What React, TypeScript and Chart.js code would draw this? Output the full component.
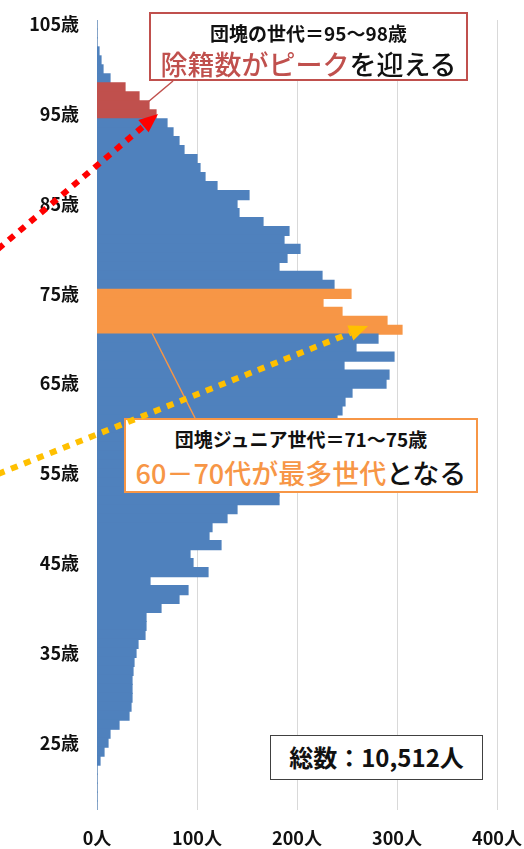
import React, { useEffect, useRef } from "react";
import { Chart, registerables } from "chart.js";

Chart.register(...registerables);

// Ages from top (105) to bottom (18)
const ages: number[] = [
  105, 104, 103, 102, 101, 100, 99, 98, 97, 96,
  95, 94, 93, 92, 91, 90, 89, 88, 87, 86,
  85, 84, 83, 82, 81, 80, 79, 78, 77, 76,
  75, 74, 73, 72, 71, 70, 69, 68, 67, 66,
  65, 64, 63, 62, 61, 60, 59, 58, 57, 56,
  55, 54, 53, 52, 51, 50, 49, 48, 47, 46,
  45, 44, 43, 42, 41, 40, 39, 38, 37, 36,
  35, 34, 33, 32, 31, 30, 29, 28, 27, 26,
  25, 24, 23, 22, 21, 20, 19, 18,
];

const counts: number[] = [
  0, 0, 0, 2, 4, 6, 13, 28, 42, 52,
  59, 70, 76, 82, 87, 100, 103, 108, 120, 152,
  140, 142, 166, 192, 187, 203, 190, 182, 225, 237,
  254, 226, 245, 290, 305, 281, 259, 297, 247, 292,
  289, 255, 248, 245, 240, 232, 225, 220, 212, 205,
  198, 190, 182, 182, 140, 130, 115, 112, 124, 93,
  96, 111, 53, 91, 82, 64, 49, 49, 48, 41,
  39, 37, 36, 35, 35, 35, 34, 32, 22, 13,
  11, 7, 3, 0, 0, 0, 0, 0,
];

const xTickValues: number[] = [0, 100, 200, 300, 400];
const peakRange: number[] = [95, 98]; // 団塊の世代
const juniorRange: number[] = [71, 75]; // 団塊ジュニア世代

const BLUE = "#4f81bd";
const RED = "#c0504d";
const ORANGE = "#f79646";
const FONT = "'Noto Sans CJK JP', 'Noto Sans', sans-serif";

export default function App() {
  const canvasRef = useRef<HTMLCanvasElement | null>(null);

  useEffect(() => {
    const canvas = canvasRef.current;
    if (!canvas) return;
    const colors = ages.map((a) =>
      a >= peakRange[0] && a <= peakRange[1]
        ? RED
        : a >= juniorRange[0] && a <= juniorRange[1]
        ? ORANGE
        : BLUE
    );
    const chart = new Chart(canvas, {
      type: "bar",
      data: {
        labels: ages.map((a) => `${a}歳`),
        datasets: [
          {
            data: counts,
            backgroundColor: colors,
            borderWidth: 0,
            barPercentage: 1,
            categoryPercentage: 1,
            inflateAmount: 0.6,
          } as any,
        ],
      },
      options: {
        indexAxis: "y",
        responsive: false,
        animation: false,
        devicePixelRatio: 1,
        layout: { padding: { top: 20, right: 27, bottom: 0, left: 0 } },
        plugins: {
          legend: { display: false },
          tooltip: { enabled: false },
        },
        scales: {
          y: {
            type: "category",
            grid: { display: false, drawTicks: false },
            border: { display: false },
            ticks: {
              autoSkip: false,
              padding: 18,
              color: "#111",
              font: { family: FONT, size: 18, weight: "bold" },
              callback: (_v: any, i: number) =>
                ages[i] % 10 === 5 ? `${ages[i]}歳` : "",
            },
            afterFit: (s: any) => {
              s.width = 97;
              s.paddingTop = 0;
              s.paddingBottom = 0;
            },
          },
          x: {
            type: "linear",
            min: xTickValues[0],
            max: xTickValues[xTickValues.length - 1],
            grid: { color: "#d9d9d9", lineWidth: 1, drawTicks: false },
            border: { display: false },
            afterBuildTicks: (s: any) => {
              s.ticks = xTickValues.map((v) => ({ value: v }));
            },
            ticks: {
              padding: 17,
              color: "#111",
              font: { family: FONT, size: 18, weight: "bold" },
              callback: (v: any) => `${v}人`,
            },
            afterFit: (s: any) => {
              s.height = 39;
              s.paddingLeft = 0;
              s.paddingRight = 0;
            },
          },
        },
      },
    });
    return () => chart.destroy();
  }, []);

  const boxBase: React.CSSProperties = {
    position: "absolute",
    background: "#fff",
    boxSizing: "border-box",
  };
  const line = (top: number, size: number, weight: any): React.CSSProperties => ({
    position: "absolute",
    left: 0,
    right: 0,
    top,
    textAlign: "center",
    fontFamily: FONT,
    fontSize: size,
    lineHeight: "1",
    fontWeight: weight,
    whiteSpace: "nowrap",
    color: "#111",
  });

  return (
    <div
      style={{
        position: "absolute",
        left: 0,
        top: 0,
        width: 524,
        height: 849,
        background: "#fff",
        overflow: "hidden",
      }}
    >
      <canvas ref={canvasRef} width={524} height={849} style={{ display: "block" }} />

      {/* 団塊の世代 box */}
      <div
        style={{
          ...boxBase,
          left: 149,
          top: 12,
          width: 319,
          height: 69,
          border: `2px solid ${RED}`,
        }}
      >
        <div style={line(9, 19, 700)}>団塊の世代＝95～98歳</div>
        <div style={line(36, 27, 500)}>
          <span style={{ color: RED }}>除籍数がピーク</span>
          <span>を迎える</span>
        </div>
      </div>

      {/* 団塊ジュニア世代 box */}
      <div
        style={{
          ...boxBase,
          left: 124,
          top: 418,
          width: 354,
          height: 75,
          border: `2px solid ${ORANGE}`,
        }}
      >
        <div style={line(9, 19, 700)}>団塊ジュニア世代＝71～75歳</div>
        <div style={line(39, 27, 500)}>
          <span style={{ color: ORANGE }}>60－70代が最多世代</span>
          <span>となる</span>
        </div>
      </div>

      {/* total box */}
      <div
        style={{
          ...boxBase,
          left: 270,
          top: 735,
          width: 213,
          height: 45,
          border: "1.5px solid #404040",
        }}
      >
        <div style={line(9, 24, 700)}>総数：10,512人</div>
      </div>

      <svg
        width={524}
        height={849}
        style={{ position: "absolute", left: 0, top: 0, pointerEvents: "none" }}
      >
        {/* connectors */}
        <line x1={148} y1={102} x2={173} y2={81} stroke={RED} strokeWidth={1.5} />
        <line x1={152} y1={333} x2={195} y2={418} stroke={ORANGE} strokeWidth={1.5} />
        {/* red dotted arrow */}
        <line
          x1={-2}
          y1={249}
          x2={143.5}
          y2={126.2}
          stroke="#ff0000"
          strokeWidth={6}
          strokeDasharray="7 7"
        />
        <polygon points="158,114 148.6,132.3 138.3,120.1" fill="#ff0000" />
        {/* yellow dotted arrow */}
        <line
          x1={-2}
          y1={474}
          x2={350.4}
          y2={333}
          stroke="#ffc000"
          strokeWidth={6}
          strokeDasharray="7 7"
        />
        <polygon points="368,326 353.4,340.4 347.4,325.6" fill="#ffc000" />
      </svg>
    </div>
  );
}
